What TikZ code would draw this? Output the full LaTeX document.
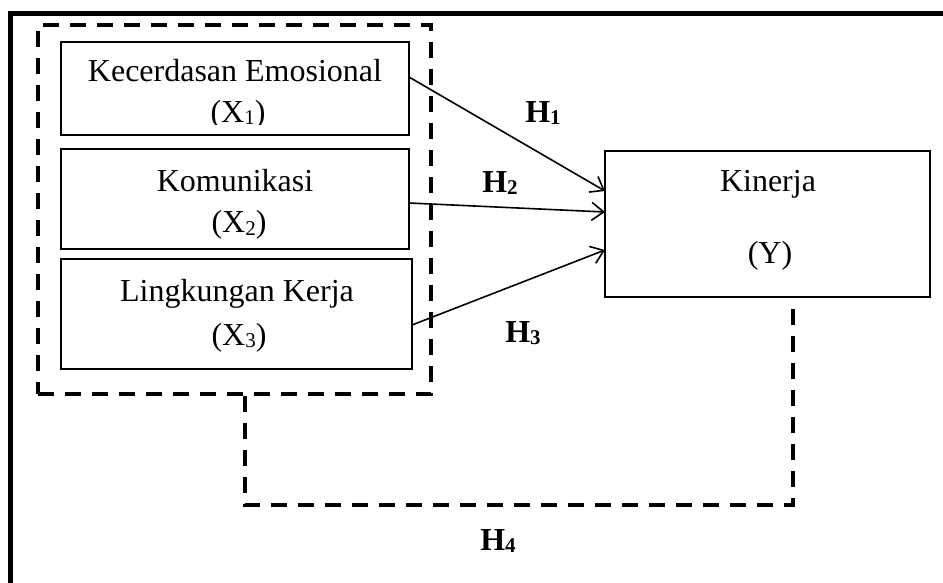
\documentclass[tikz,border=0pt]{standalone}
\usepackage{fontspec}
\setmainfont{Liberation Serif}
\usepackage{tikz}
\usetikzlibrary{arrows.meta,calc}
\newcommand{\lowsub}[1]{\raisebox{-2pt}{\fontsize{21}{21}\selectfont #1}}
\tikzset{
         varbox/.style={rectangle,draw,line width=1.8pt,inner sep=0pt,outer sep=0pt},
         grpbox/.style={rectangle,draw,line width=4.3pt,dash pattern=on 16pt off 11pt,inner sep=0pt},
         lbl/.style={font=\fontsize{32}{38}\selectfont,inner sep=0pt,anchor=base},
         hyp/.style={font=\fontsize{32}{38}\selectfont\bfseries,inner sep=0pt,anchor=base},
         hline/.style={line width=1.6pt,-{Straight Barb[length=12pt,width=18pt,line width=1.6pt]}}
        }
\begin{document}
\begin{tikzpicture}[x=1pt,y=-1pt]
\useasboundingbox(0,0)rectangle(943,583);
\clip(0,0)rectangle(943,583);
\draw[line width=5pt](10.5,13.5)rectangle(980,620);%frame
%dashed group
\node[grpbox,minimum width=393pt,minimum height=369pt](grp)at(234.5,209.5){};
%variable boxes
\node[varbox,minimum width=348pt,minimum height=93pt](xa)at(235,88.5){};
\node[varbox,minimum width=348pt,minimum height=100pt](xb)at(235,199){};
\node[varbox,minimum width=351pt,minimum height=110pt](xc)at(236.5,314){};
\node[varbox,minimum width=325pt,minimum height=146pt](ky)at(767.5,224){};
%box texts
\node[lbl](xat)at(235,82){Kecerdasan Emosional};
\begin{scope}
\clip(61,42)rectangle(409,125);
\node[lbl](xas)at(238,123){(X\lowsub{1})};
\end{scope}
\node[lbl](xbt)at(235,192){Komunikasi};
\node[lbl](xbs)at(239,233){(X\lowsub{2})};
\node[lbl](xct)at(237,301){Lingkungan Kerja};
\node[lbl](xcs)at(239,345){(X\lowsub{3})};
\node[lbl](kyt)at(768,192){Kinerja};
\node[lbl](kys)at(770,263){(Y)};
%hypotheses
\draw[hline]([yshift=11.5pt]xa.east)--([yshift=33pt]ky.west);
\draw[hline]([yshift=-4pt]xb.east)--([yshift=12pt]ky.west);
\draw[hline]([yshift=-11pt]xc.east)--([yshift=-26pt]ky.west);
\draw[line width=4.3pt,dash pattern=on 16pt off 11pt]([xshift=10.5pt]grp.south)--++(0,109)-|([xshift=25.5pt]ky.south);
%labels
\node[hyp](ha)at(543,123){H\lowsub{1}};
\node[hyp](hb)at(500,193){H\lowsub{2}};
\node[hyp](hc)at(523,342){H\lowsub{3}};
\node[hyp](hd)at(498,550){H\lowsub{4}};
\end{tikzpicture}
\end{document}
